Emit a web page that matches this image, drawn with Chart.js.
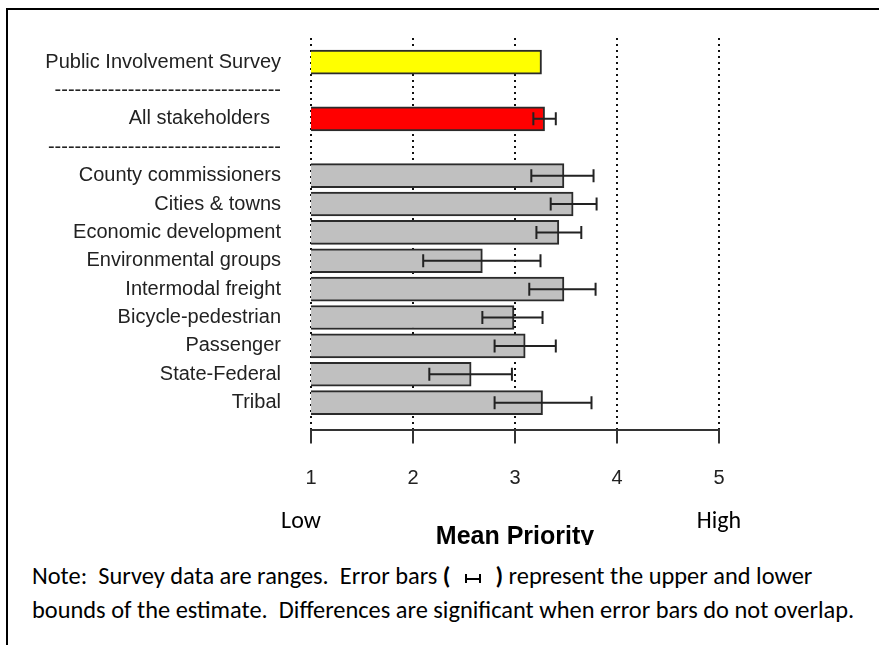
<!DOCTYPE html>
<html>
<head>
<meta charset="utf-8">
<script src="https://cdn.jsdelivr.net/npm/chart.js@4"></script>
<style>
  body { margin: 0; background: #fff; }
  #wrap { position: relative; width: 879px; height: 645px; overflow: hidden; background: #fff; }
  #chart { position: absolute; left: 0; top: 0; }
  .frame { position: absolute; left: 6px; top: 8px; width: 1000px; height: 1000px;
           border-top: 2px solid #000; border-left: 2px solid #000; pointer-events: none; }
  .end { position: absolute; top: 508px; font: 24px Carlito, "Open Sans", sans-serif; line-height: 24px;
         color: #000; transform: translateX(-50%); }
  .note { position: absolute; left: 0; top: 545px; width: 879px; height: 100px; background: #fff;
          padding: 14px 0 0 32px; box-sizing: border-box; font: 24.4px Carlito, "Open Sans", sans-serif;
          line-height: 34px; color: #000; white-space: pre; }
  .eb { display: inline-block; width: 12px; height: 9px; margin: 0 3px 0 4px;
        border-left: 2px solid #000; border-right: 2px solid #000;
        background: linear-gradient(#000, #000) center / 100% 2px no-repeat; vertical-align: 1px; }
</style>
</head>
<body>
<div id="wrap">
  <canvas id="chart" width="879" height="645"></canvas>
  <div class="end" style="left:301px">Low</div>
  <div class="end" style="left:719px">High</div>
  <div class="note"><div>Note:  Survey data are ranges.  Error bars <b>(</b>  <span class="eb"></span>  <b>)</b> represent the upper and lower</div><div>bounds of the estimate.  Differences are significant when error bars do not overlap.</div></div>
  <div class="frame"></div>
</div>
<script>
// rows of the chart, top to bottom (separators sit on rows 1 and 3)
const groups = ['Public Involvement Survey', 'All stakeholders', 'County commissioners', 'Cities & towns',
  'Economic development', 'Environmental groups', 'Intermodal freight', 'Bicycle-pedestrian',
  'Passenger', 'State-Federal', 'Tribal'];
const rowPos = [0, 2, 4, 5, 6, 7, 8, 9, 10, 11, 12];
const means = [3.26, 3.29, 3.48, 3.57, 3.43, 2.68, 3.48, 2.99, 3.10, 2.57, 3.27];
const lower = [null, 3.18, 3.16, 3.35, 3.21, 2.10, 3.14, 2.68, 2.80, 2.16, 2.80];
const upper = [null, 3.40, 3.77, 3.80, 3.65, 3.25, 3.79, 3.27, 3.40, 2.97, 3.75];
const barColors = ['#ffff00', '#ff0000', '#c0c0c0', '#c0c0c0', '#c0c0c0', '#c0c0c0', '#c0c0c0',
  '#c0c0c0', '#c0c0c0', '#c0c0c0', '#c0c0c0'];
const rowLabels = ['Public Involvement Survey', '----------------------------------',
  'All stakeholders  ', '-----------------------------------', 'County commissioners',
  'Cities & towns', 'Economic development', 'Environmental groups', 'Intermodal freight',
  'Bicycle-pedestrian', 'Passenger', 'State-Federal', 'Tribal'];
const xTicks = [1, 2, 3, 4, 5];

const errorBars = {
  id: 'errorBars',
  afterDatasetsDraw(chart) {
    const {ctx, scales: {x, y}} = chart;
    ctx.save();
    ctx.strokeStyle = '#222';
    ctx.lineWidth = 2;
    groups.forEach((g, i) => {
      if (lower[i] == null) return;
      const yy = y.getPixelForValue(rowPos[i]);
      const x0 = x.getPixelForValue(lower[i]);
      const x1 = x.getPixelForValue(upper[i]);
      ctx.beginPath();
      ctx.moveTo(x0, yy); ctx.lineTo(x1, yy);
      ctx.moveTo(x0, yy - 6.5); ctx.lineTo(x0, yy + 6.5);
      ctx.moveTo(x1, yy - 6.5); ctx.lineTo(x1, yy + 6.5);
      ctx.stroke();
    });
    ctx.restore();
  }
};

new Chart(document.getElementById('chart'), {
  type: 'bar',
  data: {
    datasets: [{
      data: groups.map((g, i) => ({x: means[i], y: rowPos[i]})),
      backgroundColor: barColors,
      borderColor: '#2b2b2b',
      borderWidth: 2,
      borderSkipped: false,
      barThickness: 24
    }]
  },
  options: {
    indexAxis: 'y',
    responsive: false,
    animation: false,
    layout: { padding: { top: 38, right: 160, bottom: 96, left: 0 } },
    plugins: { legend: { display: false }, tooltip: { enabled: false } },
    scales: {
      x: {
        type: 'linear', min: 1, max: 5,
        afterBuildTicks: s => { s.ticks = xTicks.map(v => ({value: v})); },
        ticks: { font: { family: 'Liberation Sans', size: 20 }, color: '#222', padding: 23 },
        grid: { color: '#111', lineWidth: 2, tickLength: 14, tickColor: '#333', tickWidth: 2, tickBorderDash: [] },
        border: { display: true, color: '#333', width: 2, dash: [2, 4] },
        title: { display: true, text: 'Mean Priority', color: '#000',
                 font: { family: 'Liberation Sans', size: 25, weight: 'bold' }, padding: { top: 8.4, bottom: -3 } }
      },
      y: {
        type: 'linear', reverse: true, min: -0.85, max: 12.95, offset: false,
        afterBuildTicks: s => { s.ticks = rowLabels.map((l, i) => ({value: i})); },
        afterFit: s => { s.width = 311; },
        ticks: { autoSkip: false, padding: 22, color: '#222',
                 font: { family: 'Liberation Sans', size: 20 },
                 callback: v => rowLabels[v] },
        grid: { display: false, offset: false },
        border: { display: false }
      }
    }
  },
  plugins: [errorBars]
});
</script>
</body>
</html>
